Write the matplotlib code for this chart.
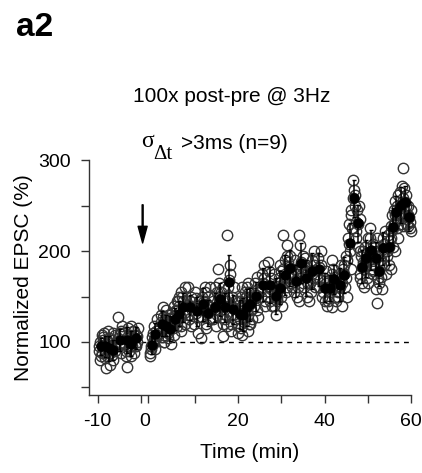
"""
Panel a2: normalized EPSC time course after 100x post-pre pairing at 3 Hz
(sigma_dt > 3 ms group, n=9). Open circles: single cells, filled: mean +/- SEM.
"""

import matplotlib
matplotlib.use('Agg')
import matplotlib.pyplot as plt

plt.rcParams['font.family'] = ['Liberation Sans', 'DejaVu Sans']
plt.rcParams['axes.unicode_minus'] = False

# baseline, minutes before pairing
pre_t = [-9.3, -8.2, -7.3, -6.5, -4.9, -3.3, -2.3, -1.2]
pre_mean = [95, 95, 93, 91.6, 102.5, 102, 98, 104]
pre_sem = [9, 12, 14, 11, 12, 14, 14, 12]
pre_cells = [
    [90, 100, 84, 108, 96, 88, 80, 102],
    [105, 82, 71, 98, 110, 92, 88, 100],
    [85, 100, 75, 96, 112, 88, 104, 92],
    [102, 86, 80, 108, 94, 97, 110, 90],
    [127, 95, 110, 88, 104, 112, 98, 118],
    [110, 90, 72, 106, 98, 115, 85, 100],
    [90, 108, 85, 112, 100, 95, 118, 104],
    [112, 95, 108, 100, 88, 106, 96, 115],
]

# after pairing, minutes
post_t = [0.0, 0.8, 2.3, 3.3, 4.2, 5.4, 6.3, 7.2, 8.8, 10.4,
          11.9, 13.0, 14.6, 15.9, 16.9, 17.9, 18.8, 20.4, 21.2, 22.0,
          22.7, 24.2, 25.8, 27.3, 28.7, 29.6, 30.8, 31.9, 33.5, 34.6,
          35.8, 37.2, 38.7, 40.0, 41.2, 42.1, 43.5, 44.6, 45.8, 46.7,
          47.7, 48.6, 49.6, 50.8, 51.8, 52.7, 53.6, 54.9, 55.8, 56.6,
          57.7, 58.7, 59.6]
post_mean = [97, 109, 120, 118, 114.5, 125, 131, 138, 138, 134,
             141.5, 132, 138, 147, 138, 166, 136, 130.5, 130, 138,
             141.5, 150.5, 163, 163, 150.5, 159.6, 174, 181.5, 167, 187,
             170.5, 178, 180, 159.6, 159.6, 169, 163, 174, 209, 258,
             230.6, 183, 192, 201.5, 192, 178, 203, 205, 227, 243,
             250.6, 254, 238]
post_sem = [10, 12, 14, 12, 14, 12, 14, 16, 14, 16,
            18, 14, 16, 18, 16, 30, 16, 16, 18, 20,
            18, 16, 18, 20, 20, 18, 22, 20, 18, 22,
            20, 20, 18, 16, 14, 16, 18, 20, 22, 20,
            20, 18, 20, 22, 18, 16, 18, 20, 20, 18,
            20, 18, 16]
post_cells = [
    [88, 92, 105, 100, 85, 110, 96, 102],
    [98, 118, 104, 125, 100, 112, 92, 108],
    [110, 130, 105, 128, 115, 138, 122, 100],
    [108, 125, 135, 112, 100, 122, 118, 130],
    [104, 126, 120, 132, 110, 98, 115, 125],
    [115, 140, 130, 118, 108, 135, 122, 145],
    [122, 145, 150, 118, 135, 128, 140, 112],
    [128, 150, 145, 120, 155, 132, 140, 160],
    [160, 125, 145, 150, 130, 118, 140, 135],
    [120, 148, 140, 128, 155, 110, 132, 145],
    [104, 150, 135, 160, 128, 145, 140, 155],
    [120, 142, 150, 125, 115, 138, 132, 160],
    [125, 150, 160, 130, 145, 118, 138, 155],
    [180, 135, 155, 128, 165, 140, 150, 120],
    [106, 150, 125, 145, 160, 130, 140, 118],
    [218, 150, 175, 140, 160, 185, 168, 130],
    [120, 150, 130, 145, 112, 160, 138, 125],
    [118, 145, 125, 140, 110, 150, 132, 160],
    [115, 140, 122, 148, 108, 135, 128, 155],
    [128, 150, 160, 120, 140, 112, 135, 150],
    [130, 155, 120, 148, 165, 135, 142, 125],
    [140, 165, 135, 158, 148, 172, 152, 128],
    [150, 175, 185, 145, 160, 170, 165, 140],
    [150, 178, 145, 170, 188, 158, 162, 140],
    [140, 162, 130, 155, 175, 145, 150, 165],
    [148, 170, 185, 150, 162, 178, 158, 140],
    [218, 165, 190, 160, 180, 155, 172, 195],
    [207, 170, 195, 165, 188, 175, 182, 160],
    [155, 180, 150, 175, 190, 160, 168, 145],
    [218, 207, 175, 195, 170, 182, 188, 165],
    [160, 185, 150, 178, 192, 165, 172, 145],
    [165, 190, 170, 185, 155, 200, 178, 160],
    [170, 192, 160, 185, 175, 168, 182, 200],
    [150, 170, 145, 165, 155, 178, 160, 140],
    [148, 168, 155, 175, 145, 162, 160, 138],
    [158, 180, 165, 150, 190, 172, 168, 145],
    [150, 175, 160, 185, 155, 170, 162, 140],
    [165, 185, 160, 195, 180, 170, 175, 150],
    [190, 230, 200, 245, 215, 180, 208, 225],
    [240, 278, 267, 250, 225, 262, 258, 232],
    [215, 245, 205, 235, 222, 250, 230, 200],
    [175, 195, 165, 200, 170, 188, 182, 160],
    [180, 205, 170, 215, 188, 198, 192, 165],
    [190, 215, 180, 208, 225, 195, 200, 178],
    [175, 205, 158, 200, 185, 215, 192, 170],
    [143, 165, 190, 172, 200, 185, 178, 158],
    [190, 215, 185, 222, 198, 208, 202, 175],
    [195, 218, 185, 228, 200, 212, 205, 180],
    [215, 240, 205, 232, 222, 245, 226, 200],
    [230, 255, 225, 262, 240, 250, 242, 215],
    [240, 265, 230, 258, 248, 272, 250, 228],
    [292, 240, 262, 235, 270, 250, 254, 228],
    [230, 250, 225, 245, 240, 232, 238, 222],
]

# the post-pairing segment is drawn a little to the right of the baseline one
POST_SHIFT = 2.5
# horizontal spread of the single-cell circles around each bin (min)
SPREAD = [-0.5, -0.2, 0.1, 0.4, -0.35, 0.25, -0.05, 0.5]


def draw_cells(ax, times, cells, shift):
    xs, ys = [], []
    for t, vals in zip(times, cells):
        for dx, v in zip(SPREAD, vals):
            xs.append(t + shift + dx)
            ys.append(v)
    ax.plot(xs, ys, 'o', ms=7.5, mfc='none', mec='#333333', mew=1.0,
            clip_on=False, zorder=2)


def main():
    fig = plt.figure(figsize=(4.22, 4.73), dpi=100)
    ax = fig.add_axes([0.211, 0.165, 0.763, 0.496])

    # single cells
    draw_cells(ax, pre_t, pre_cells, 0.0)
    draw_cells(ax, post_t, post_cells, POST_SHIFT)

    # baseline reference
    ax.plot([0, 60 + POST_SHIFT], [100, 100], color='k', lw=1,
            ls=(0, (3.5, 3.5)), zorder=1)

    # means +/- SEM
    post_x = [t + POST_SHIFT for t in post_t]
    for xs, m, e in ((pre_t, pre_mean, pre_sem), (post_x, post_mean, post_sem)):
        ax.errorbar(xs, m, yerr=e, fmt='o', ms=6.5, color='k', ecolor='k',
                    elinewidth=1.1, capsize=1.5, capthick=1, zorder=3,
                    clip_on=False)

    # pairing arrow
    ax.annotate('', xy=(0.4, 209), xytext=(0.4, 251),
                arrowprops=dict(facecolor='k', edgecolor='k', width=0.7,
                                headwidth=6.5, headlength=12, shrink=0))

    ax.set_xlim(-12, 60 + POST_SHIFT)
    ax.set_ylim(41.6, 300)

    for side in ('top', 'right'):
        ax.spines[side].set_visible(False)
    for side in ('left', 'bottom'):
        ax.spines[side].set_linewidth(1)
        ax.spines[side].set_color('#333333')

    ax.set_yticks([100, 200, 300])
    ax.set_yticks([50, 150, 250], minor=True)
    ax.set_xticks([-10, 0.8, 20 + POST_SHIFT, 40 + POST_SHIFT, 60 + POST_SHIFT],
                  ['-10', '0', '20', '40', '60'])
    ax.set_xticks([0, 1.6, 10 + POST_SHIFT, 30 + POST_SHIFT, 50 + POST_SHIFT],
                  minor=True)
    ax.xaxis.get_major_ticks()[1].tick1line.set_visible(False)

    ax.tick_params(which='both', direction='out', length=6, width=1,
                   color='#333333', labelsize=14)
    ax.tick_params(axis='y', which='both', pad=7)
    ax.tick_params(axis='x', which='both', pad=7)

    ax.set_xlabel('Time (min)', fontsize=15, labelpad=9)
    ax.set_ylabel('Normalized EPSC (%)', fontsize=15, labelpad=4)

    # titles
    W, H = 422, 473
    fig.text(16 / W, 1 - 28 / H, 'a2', fontsize=24, fontweight='bold',
             ha='left', va='center')
    fig.text(232 / W, 1 - 96 / H, '100x post-pre @ 3Hz', fontsize=15,
             ha='center', va='center')
    fig.text(141 / W, 1 - 147 / H, 'σ', family='Liberation Serif',
             fontsize=17, va='baseline')
    fig.text(153 / W, 1 - 159 / H, 'Δt', family='Liberation Serif',
             fontsize=15, va='baseline')
    fig.text(181 / W, 1 - 149 / H, '>3ms (n=9)', fontsize=15, va='baseline')

    fig.savefig('out.png', dpi=100, facecolor='white')
    plt.close(fig)


if __name__ == "__main__":
    main()
